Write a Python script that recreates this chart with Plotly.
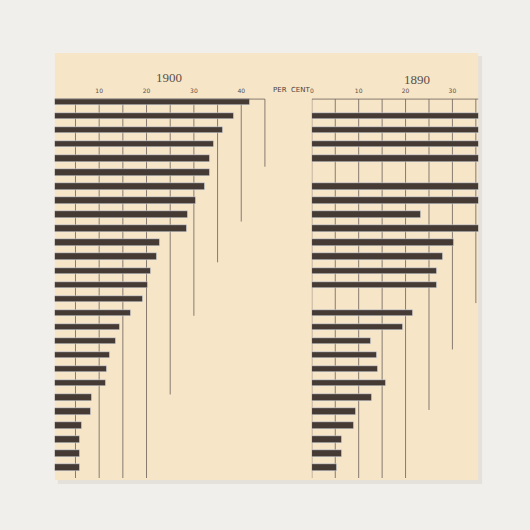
import plotly.graph_objects as go

rows = list(range(27))
v1900 = [41.7, 38.5, 36.2, 34.3, 33.3, 33.3, 32.2, 30.5, 28.8, 28.6, 22.9, 22.1, 20.8, 20.2,
         19.2, 16.6, 14.3, 13.5, 12.2, 11.6, 11.4, 8.4, 8.2, 6.3, 5.9, 5.9, 5.9]
v1890 = [None, 37, 37, 37, 37, None, 37, 37, 23.2, 37, 30.4, 27.9, 26.6, 26.6, None,
         21.5, 19.4, 12.6, 13.8, 14.0, 15.7, 12.8, 9.4, 8.9, 6.4, 6.4, 5.3]
ticks_left = [10, 20, 30, 40]
ticks_right = [0, 10, 20, 30]
grid_left = [5, 10, 15, 20, 25, 30, 35, 40, 45]
grid_left_end = [27, 27, 27, 27, 20.8, 15.2, 11.4, 8.5, 4.6]
grid_right = [0, 5, 10, 15, 20, 25, 30, 35]
grid_right_end = [27, 27, 27, 27, 27, 21.9, 17.6, 14.3]

BAR = "#453b34"
H = 530
def py(p):
    return 1 - p / H

fig = go.Figure()
fig.add_trace(go.Bar(x=v1900, y=rows, orientation="h", marker_color=BAR, width=0.46,
                     xaxis="x", yaxis="y", showlegend=False, hoverinfo="skip"))
fig.add_trace(go.Bar(x=v1890, y=rows, orientation="h", marker_color=BAR, width=0.46,
                     xaxis="x2", yaxis="y2", showlegend=False, hoverinfo="skip"))

shapes = [dict(type="rect", xref="paper", yref="paper", x0=56/530, x1=482/530, y0=py(484), y1=py(56),
               fillcolor="#e4e0da", line_width=0, layer="below"),
          dict(type="rect", xref="paper", yref="paper", x0=53/530, x1=478/530, y0=py(480), y1=py(53),
               fillcolor="#f7e5c8", line_width=0, layer="below")]
gl = dict(color="#6a6058", width=0.8)
for g, e in zip(grid_left, grid_left_end):
    shapes.append(dict(type="line", xref="x", yref="y", x0=g, x1=g, y0=-0.21, y1=e, line=gl, layer="below"))
for g, e in zip(grid_right, grid_right_end):
    shapes.append(dict(type="line", xref="x2", yref="y2", x0=g, x1=g, y0=-0.21, y1=e, line=gl, layer="below"))
shapes.append(dict(type="line", xref="x", yref="y", x0=0, x1=45, y0=-0.21, y1=-0.21, line=gl))
shapes.append(dict(type="line", xref="x2", yref="y2", x0=0, x1=40, y0=-0.21, y1=-0.21, line=gl))

ydom = [py(478), py(95)]
yr = [26.74, -0.5]
tf = dict(family="DejaVu Sans", size=6, color="#5a5048")
fig.update_layout(
    width=530, height=530, margin=dict(l=0, r=0, t=0, b=0),
    paper_bgcolor="#f1efec", plot_bgcolor="rgba(0,0,0,0)", bargap=0,
    xaxis=dict(domain=[53/530, 272/530], range=[0.63, 46.7], side="top", tickvals=ticks_left,
               showgrid=False, zeroline=False, showline=False, ticks="", tickfont=tf, anchor="y"),
    yaxis=dict(domain=ydom, range=yr, visible=False),
    xaxis2=dict(domain=[311/530, 478/530], range=[0, 35.5], side="top", tickvals=ticks_right,
                showgrid=False, zeroline=False, showline=False, ticks="", tickfont=tf, anchor="y2"),
    yaxis2=dict(domain=ydom, range=yr, visible=False, anchor="x2"),
    shapes=shapes,
    annotations=[
        dict(text="1900", x=153/530, y=py(68), xref="paper", yref="paper", showarrow=False,
             font=dict(family="Liberation Serif", size=13, color="#5a5048")),
        dict(text="1890", x=432/530, y=py(70), xref="paper", yref="paper", showarrow=False,
             font=dict(family="Liberation Serif", size=13, color="#5a5048")),
        dict(text="PER  CENT", x=291/530, y=py(84), xref="paper", yref="paper", showarrow=False,
             font=dict(family="DejaVu Sans", size=7, color="#4a4039")),
    ],
)
fig.write_html("out.html", config={"displayModeBar": False})
with open("out.html", encoding="utf-8") as f:
    html = f.read()
html = html.replace("<body>", '<body style="margin:0;background:#f1efec">', 1)
with open("out.html", "w", encoding="utf-8") as f:
    f.write(html)
